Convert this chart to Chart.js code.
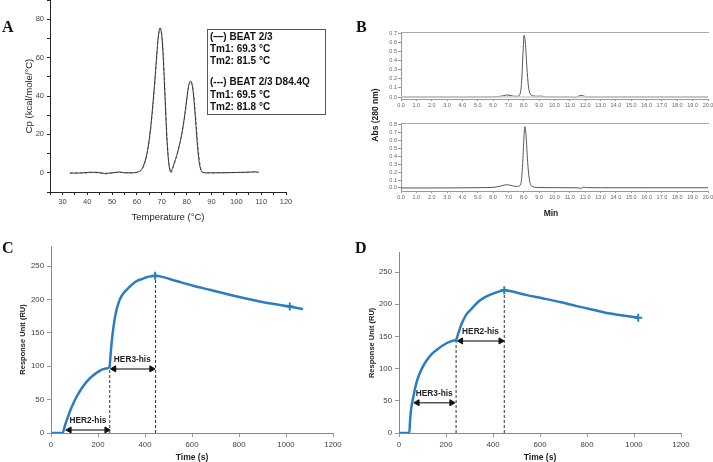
<!DOCTYPE html>
<html><head><meta charset="utf-8">
<script src="https://cdn.jsdelivr.net/npm/chart.js@4.4.1/dist/chart.umd.min.js"></script>
<style>
html,body{margin:0;padding:0;background:#fff;overflow:hidden;}
#wrap{position:relative;width:713px;height:462px;background:#fff;font-family:"Liberation Sans",Arial,sans-serif;}
canvas{position:absolute;}
.pl{position:absolute;font-family:"Liberation Serif","Times New Roman",serif;font-weight:bold;font-size:16px;color:#111;line-height:16px;}
.tx{position:absolute;font:bold 8.5px "Liberation Sans",Arial,sans-serif;color:#222;white-space:nowrap;}
#legA{position:absolute;left:207px;top:29px;width:119px;height:86px;border:1px solid #555;box-sizing:border-box;font:bold 10px "Liberation Sans",Arial,sans-serif;color:#111;white-space:nowrap;overflow:hidden;}
#legA div{position:absolute;left:2px;line-height:12px;}
</style></head>
<body><div id="wrap">
<canvas id="cA" width="300" height="230" style="left:0;top:0"></canvas>
<canvas id="cB1" width="373" height="115" style="left:340px;top:0"></canvas>
<canvas id="cB2" width="373" height="115" style="left:340px;top:115px"></canvas>
<canvas id="cC" width="350" height="232" style="left:0;top:230px"></canvas>
<canvas id="cD" width="363" height="232" style="left:350px;top:230px"></canvas>
<div class="pl" style="left:2px;top:19px">A</div>
<div class="pl" style="left:356px;top:19px">B</div>
<div class="pl" style="left:2px;top:240px">C</div>
<div class="pl" style="left:355px;top:240px">D</div>
<div id="legA">
<div style="top:1px">(—) BEAT 2/3</div>
<div style="top:13px">Tm1: 69.3 °C</div>
<div style="top:25px">Tm2: 81.5 °C</div>
<div style="top:46px">(---) BEAT 2/3 D84.4Q</div>
<div style="top:59px">Tm1: 69.5 °C</div>
<div style="top:71px">Tm2: 81.8 °C</div>
</div>
<div class="tx" style="left:375px;top:115px;transform:translate(-50%,-50%) rotate(-90deg)">Abs (280 nm)</div>
<div class="tx" style="left:551px;top:213px;transform:translate(-50%,-50%)">Min</div>
</div>
<script>
// ---------- Panel A: DSC ----------
const tempA1 = [33,35,38,40,42,45,47,50,53,55,58,60,61,62,63,64,65,66,67,68,68.5,69,69.3,69.7,70,70.5,71,71.5,72,72.5,73,73.6,74,74.5,75,76,77,78,79,80,80.5,81,81.5,82,82.5,83,83.5,84,84.5,85,85.5,86,86.5,88,90,95,100,105,107,109];
const cpA1 = [0,-0.2,0,0.2,0.3,0.1,-0.3,0,0.4,0,0,0.3,0.8,2,5,10,18,30,45,62,70,74.5,75.5,74,71,62,48,33,19,9,3,0.3,1.5,3,5,9,14,20,28,38,43,46.5,47.8,46.8,43.5,37,29,20,12,6,2.5,0.8,0.2,0,0,0,0.2,0.3,0.5,0.3];
const tempA2 = [33,36,39,41,44,46,47.5,50,52,55,58,60,61,62,63,64,65,66,67,68,68.5,69,69.5,70,70.5,71,71.5,72,72.5,73,73.5,73.9,74.5,75,76,77,78,79,80,80.5,81,81.5,81.8,82.3,82.8,83.3,83.8,84.3,84.8,85.3,85.8,86.3,87,89,92,96,100,104,107,109];
const cpA2 = [-0.3,0,-0.2,0.1,0,-0.4,-0.6,-0.2,0.2,0.1,-0.1,0.2,0.6,1.6,4.2,9,16.5,28,43,60,69,73.5,75,72.5,65,52,37,22,11,4,1,0.2,2.5,4.5,8.5,13.5,19.5,27,37,42.5,46,47.3,47.5,46,42,35,27,18.5,11,5.5,2,0.6,0.1,-0.1,0,0.1,0.1,0.3,0.4,0.2];

// ---------- Panel B: SEC ----------
const bTime1 = [0,2,4,5,6,6.4,6.7,6.9,7.1,7.4,7.6,7.75,7.85,7.95,8.02,8.1,8.2,8.3,8.4,8.5,8.7,8.9,9.1,9.4,10,11,11.3,11.5,11.7,11.9,12.1,13,16,20];
const bAbs1 = [0,0,0,0,0.002,0.006,0.015,0.022,0.018,0.008,0.008,0.03,0.15,0.48,0.68,0.6,0.33,0.12,0.04,0.018,0.01,0.008,0.01,0.003,0,0,-0.006,0.004,0.018,0.012,0,0,0,0];
const bTime2 = [0,2,4,5,6,6.4,6.7,6.9,7.1,7.4,7.6,7.8,7.9,8.0,8.07,8.15,8.25,8.35,8.45,8.6,8.8,9.0,9.5,10,11,11.5,11.7,11.9,12.1,13,16,20];
const bAbs2 = [0,0,0.002,0.004,0.008,0.02,0.035,0.04,0.035,0.022,0.02,0.05,0.22,0.6,0.77,0.65,0.33,0.12,0.04,0.015,0.008,0.006,0.004,0.004,0.003,0.002,-0.005,0.01,0.004,0.003,0.003,0.003];
const bTicks1 = [0,0.1,0.2,0.3,0.4,0.5,0.6,0.7];
const bTicks2 = [0,0.1,0.2,0.3,0.4,0.5,0.6,0.7,0.8];

// ---------- Panel C: SPR HER2 then HER3 ----------
const cTime = [0,49,60,75,89,110,131,152,174,200,225,249,252,258,266,276,287,300,315,329,350,370,386,410,430,443,464,530,605,680,747,820,888,950,1016,1072];
const cRU = [0,0,12,27,39.5,55,67,77,84.5,91.5,96,98.5,110,135,159,180,194.5,205,212,217,224,228.5,230.5,233.5,234.8,235.5,234.5,228,220.5,214,208,202,197,193,189.5,185.5];
const cMarkT = [443,1016];
const cDashT = [250,445];
const cDashTop = [100,235];
const cArrowLabels = ['HER2-his','HER3-his'];
const cArrowFrom = [78,268];
const cArrowTo = [237,428];
const cArrowY = [4.5,96];
const cLabelT = [157,346];
const cLabelY = [18,109.5];

// ---------- Panel D: SPR HER3 then HER2 ----------
const dTime = [0,10,44,47,51,56,61,70,82,100,118,140,167,200,225,243,250,258,267,285,309,335,366,400,425,448,472,540,614,690,756,830,898,960,1018];
const dRU = [0,0,0,18,35.6,47,56,72,87,102,113,123,131,139,143,145,152,161,170,183,193,203,211,216.5,219.5,221.7,220.6,214.5,209,203,197,191,185.5,182,179];
const dMarkT = [448,1018];
const dDashT = [243,448];
const dDashTop = [146,221];
const dArrowLabels = ['HER3-his','HER2-his'];
const dArrowFrom = [78,263];
const dArrowTo = [224,433];
const dArrowY = [47,143];
const dLabelT = [150,347];
const dLabelY = [61.5,157];

const FONT = '"Liberation Sans", Arial, sans-serif';
Chart.defaults.font.family = FONT;
Chart.defaults.animation = false;
Chart.defaults.responsive = false;
Chart.defaults.devicePixelRatio = 1;
Chart.defaults.plugins.legend.display = false;
Chart.defaults.plugins.tooltip.enabled = false;

const pts = (xs, ys) => xs.map((x, i) => ({x, y: ys[i]}));
const fixW = w => s => { s.width = w; s.paddingTop = 0; s.paddingBottom = 0; };
const fixH = h => s => { s.height = h; s.paddingLeft = 0; s.paddingRight = 0; };

const textPlugin = {
  id: 'annoText',
  afterDatasetsDraw(chart, args, opts) {
    const items = opts.items || [];
    if (!items.length) return;
    const {ctx} = chart; const x = chart.scales.x, y = chart.scales.y;
    ctx.save();
    ctx.font = 'bold 8.3px ' + FONT;
    ctx.fillStyle = '#222'; ctx.textAlign = 'center'; ctx.textBaseline = 'middle';
    items.forEach(it => ctx.fillText(it.text, x.getPixelForValue(it.x), y.getPixelForValue(it.y)));
    ctx.restore();
  }
};

// ----- A -----
new Chart(document.getElementById('cA'), {
  type: 'line',
  data: {datasets: [
    {data: pts(tempA1, cpA1), borderColor: '#333', borderWidth: 1, pointRadius: 0, cubicInterpolationMode: 'monotone'},
    {data: pts(tempA2, cpA2), borderColor: '#8a8a8a', borderWidth: 1, borderDash: [3, 2], pointRadius: 0, cubicInterpolationMode: 'monotone'}
  ]},
  options: {
    layout: {padding: {left: 0, right: 14, top: 0, bottom: 5}},
    scales: {
      x: {type: 'linear', min: 25, max: 120,
        ticks: {stepSize: 5, autoSkip: false, maxRotation: 0, padding: 2, font: {size: 7.5}, color: '#444',
          callback: v => (v % 10 === 0 && v >= 30) ? String(v) : ''},
        grid: {drawOnChartArea: false, tickLength: 3, color: '#222'},
        border: {color: '#222'},
        title: {display: true, text: 'Temperature (°C)', font: {size: 9.5}, color: '#222', padding: {top: 0, bottom: 2}},
        afterFit: fixH(33)},
      y: {min: -10, max: 90,
        ticks: {stepSize: 10, autoSkip: false, padding: 3, font: {size: 7.5}, color: '#444',
          callback: v => (v % 20 === 0 && v >= 0 && v <= 80) ? String(v) : ''},
        grid: {drawOnChartArea: false, tickLength: 3, color: '#222'},
        border: {color: '#222'},
        title: {display: true, text: 'Cp (kcal/mole/°C)', font: {size: 9.5}, color: '#222', padding: {top: 24, bottom: 0}},
        afterFit: fixW(50)}
    }
  }
});

// ----- B -----
function bChart(id, xs, ys, yMin, yMax, yTicks, padTop, xH, baseline) {
  const ds = [];
  if (baseline) ds.push({data: [{x: 0, y: 0}, {x: 20, y: 0}], borderColor: '#cfcfcf', borderWidth: 1.5, pointRadius: 0});
  ds.push({data: pts(xs, ys), borderColor: '#555', borderWidth: 1, pointRadius: 0, cubicInterpolationMode: 'monotone'});
  new Chart(document.getElementById(id), {
    type: 'line',
    data: {datasets: ds},
    options: {
      layout: {padding: {left: 0, right: 5, top: padTop, bottom: 0}},
      scales: {
        x: {type: 'linear', min: 0, max: 20,
          ticks: {stepSize: 1, autoSkip: false, maxRotation: 0, padding: 1.5, font: {size: 5.5}, color: '#666',
            callback: v => v.toFixed(1)},
          grid: {drawOnChartArea: false, tickLength: 2, color: '#999'},
          border: {color: '#999'},
          afterFit: fixH(xH)},
        xTop: {type: 'linear', position: 'top', min: 0, max: 20,
          ticks: {display: false}, grid: {display: false}, border: {display: true, color: '#aaa'},
          afterFit: s => { s.height = 0; s.paddingLeft = 0; s.paddingRight = 0; }},
        y: {min: yMin, max: yMax,
          afterBuildTicks: s => { s.ticks = yTicks.map(v => ({value: v})); },
          ticks: {autoSkip: false, padding: 1, font: {size: 5.5}, color: '#666', callback: v => v.toFixed(1)},
          grid: {drawOnChartArea: false, tickLength: 3, color: '#999'},
          border: {color: '#999'},
          afterFit: fixW(61)}
      }
    }
  });
}
bChart('cB1', bTime1, bAbs1, -0.022, 0.715, bTicks1, 32, 16, true);
bChart('cB2', bTime2, bAbs2, -0.038, 0.816, bTicks2, 8, 39, false);

// ----- C / D -----
function sprChart(id, xs, ys, markT, dashT, dashTop, aLab, aFrom, aTo, aY, lT, lY, yW, padTop, padRight, titlePad) {
  const ds = [{
    data: pts(xs, ys), borderColor: '#2a7dc0', borderWidth: 2.5, cubicInterpolationMode: 'monotone',
    pointStyle: 'cross', pointBorderColor: '#2a7dc0', pointBorderWidth: 2,
    pointRadius: c => (c.raw && markT.includes(c.raw.x)) ? 4 : 0
  }];
  dashT.forEach((t, i) => ds.push({data: [{x: t, y: 0}, {x: t, y: dashTop[i]}], borderColor: '#333', borderWidth: 1, borderDash: [3, 2], pointRadius: 0, clip: false}));
  aLab.forEach((l, i) => ds.push({
    data: [{x: aFrom[i], y: aY[i]}, {x: aTo[i], y: aY[i]}], borderColor: '#555', borderWidth: 1.5,
    pointStyle: 'triangle', pointRadius: 3.5, pointRotation: c => c.dataIndex === 0 ? -90 : 90,
    pointBackgroundColor: '#111', pointBorderColor: '#111', pointBorderWidth: 1, clip: false
  }));
  new Chart(document.getElementById(id), {
    type: 'line',
    data: {datasets: ds},
    plugins: [textPlugin],
    options: {
      layout: {padding: {left: 0, right: padRight, top: padTop, bottom: 0}},
      plugins: {annoText: {items: aLab.map((l, i) => ({text: l, x: lT[i], y: lY[i]}))}},
      scales: {
        x: {type: 'linear', min: 0, max: 1200,
          ticks: {stepSize: 200, autoSkip: false, maxRotation: 0, padding: 3, font: {size: 7.8}, color: '#404040', callback: v => String(v)},
          grid: {drawOnChartArea: false, tickLength: 4, color: '#999'},
          border: {color: '#888'},
          title: {display: true, text: 'Time (s)', font: {size: 8.5, weight: 'bold'}, color: '#222', padding: {top: 0, bottom: -1}},
          afterFit: fixH(29)},
        y: {min: 0, max: 280,
          afterBuildTicks: s => { s.ticks = s.ticks.filter(t => t.value % 50 === 0); },
          ticks: {stepSize: 50, autoSkip: false, padding: 3, font: {size: 7.8}, color: '#404040', callback: v => String(v)},
          grid: {drawOnChartArea: false, tickLength: 4, color: '#999'},
          border: {color: '#888'},
          title: {display: true, text: 'Response Unit (RU)', font: {size: 7.5, weight: 'bold'}, color: '#222', padding: {top: titlePad, bottom: 0}},
          afterFit: fixW(yW)}
      }
    }
  });
}
sprChart('cC', cTime, cRU, cMarkT, cDashT, cDashTop, cArrowLabels, cArrowFrom, cArrowTo, cArrowY, cLabelT, cLabelY, 51, 16, 17, 18.5);
sprChart('cD', dTime, dRU, dMarkT, dDashT, dDashTop, dArrowLabels, dArrowFrom, dArrowTo, dArrowY, dLabelT, dLabelY, 49, 22.7, 32, 17);
</script>
</body></html>
